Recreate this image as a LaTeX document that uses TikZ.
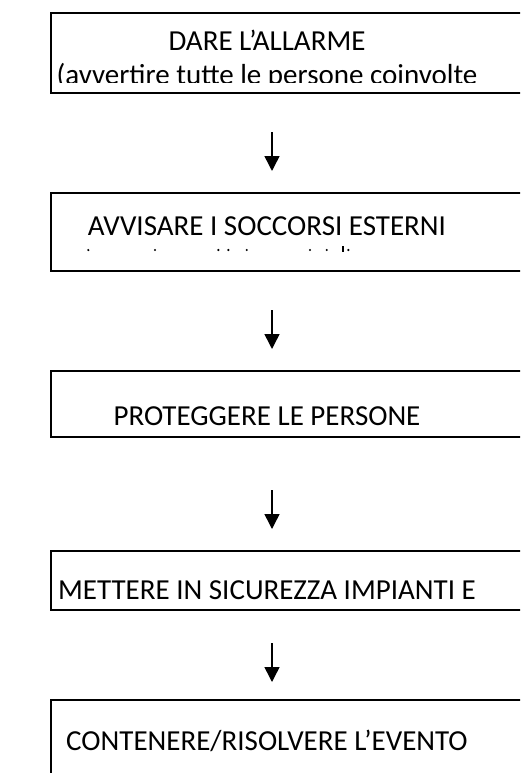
\documentclass[tikz,border=0pt]{standalone}
\usepackage{fontspec}
\setmainfont{Carlito}
\usetikzlibrary{arrows.meta}
\begin{document}
\begin{tikzpicture}[x=1pt,y=-1pt,
  box/.style={draw, line width=1.8pt, rectangle, anchor=north west, minimum width=520pt, inner sep=0pt},
  lbl/.style={anchor=base, inner sep=0pt, font=\fontsize{29}{35}\selectfont},
  arr/.style={line width=1.5pt, -{Triangle[length=15pt,width=15pt]}},
  dot/.style={fill=black, circle, inner sep=0pt, minimum size=2.4pt}]
\useasboundingbox (0,0) rectangle (520,773);
\fill[white] (0,0) rectangle (520,773);
\begin{scope}
\clip (0,0) rectangle (520,773);
% boxes
\node[box, minimum height=80pt]   (b1) at (50,12.3) {};
\node[box, minimum height=78.3pt] (b2) at (50,191.7) {};
\node[box, minimum height=66pt]   (b3) at (50,370) {};
\node[box, minimum height=59pt]   (b4) at (50,550) {};
\node[box, minimum height=120pt]  (b5) at (50,699) {};
% texts
\node[lbl] (t1) at (267,50.7) {DARE L’ALLARME};
\begin{scope}
\clip (50,60) rectangle (520,82.8);
\node[lbl] (t1b) at (267,85) {(avvertire tutte le persone coinvolte};
\end{scope}
\node[lbl] (t2) at (267,235) {AVVISARE I SOCCORSI ESTERNI};
\node[dot] (d1) at (88.3,250) {};
\node[dot] (d2) at (155,250) {};
\node[dot] (d3) at (218.3,250) {};
\node[dot] (d4) at (228.3,250) {};
\node[dot] (d5) at (246.7,250) {};
\node[dot] (d6) at (310,250) {};
\node[dot] (d7) at (326.7,250) {};
\node[fill=black, inner sep=0pt, minimum width=1.8pt, minimum height=6pt] (d8) at (343.3,249) {};
\node[dot] (d9) at (348.3,250) {};
\node[lbl] (t3) at (267,425) {PROTEGGERE LE PERSONE};
\node[lbl] (t4) at (267,599) {METTERE IN SICUREZZA IMPIANTI E};
\node[lbl] (t5) at (267,750) {CONTENERE/RISOLVERE L’EVENTO};
% arrows
\coordinate (a1s) at (272,132); \coordinate (a1e) at (272,171);
\coordinate (a2s) at (272,310); \coordinate (a2e) at (272,349);
\coordinate (a3s) at (272,490); \coordinate (a3e) at (272,529);
\coordinate (a4s) at (272,643); \coordinate (a4e) at (272,682);
\draw[arr] (a1s) -- (a1e);
\draw[arr] (a2s) -- (a2e);
\draw[arr] (a3s) -- (a3e);
\draw[arr] (a4s) -- (a4e);
\end{scope}
\end{tikzpicture}
\end{document}
